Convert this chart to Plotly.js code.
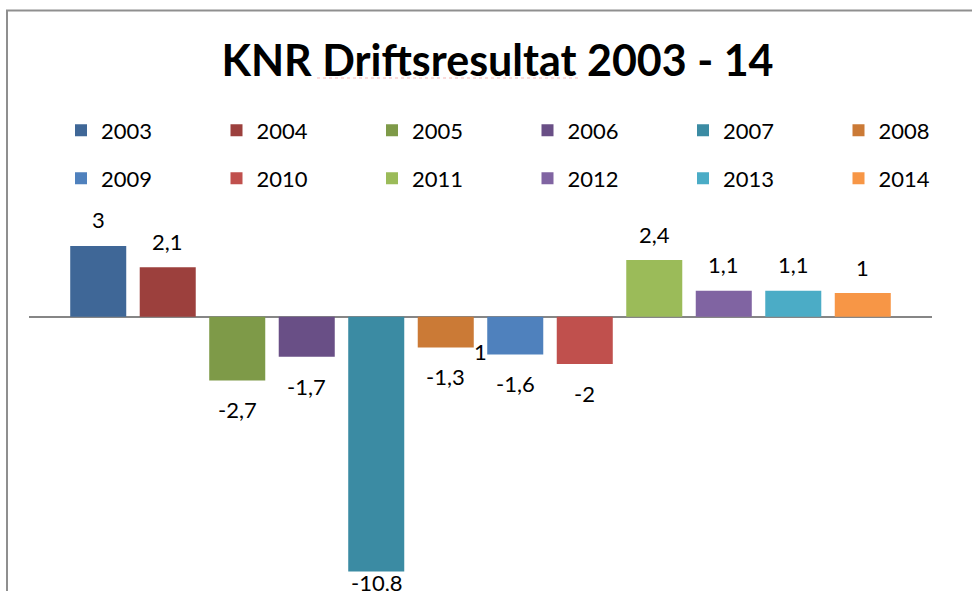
<!DOCTYPE html>
<html>
<head>
<meta charset="utf-8">
<script src="https://cdn.plot.ly/plotly-3.0.1.min.js"></script>
<style>
html, body { margin: 0; padding: 0; background: #ffffff; }
#chart { width: 972px; height: 591px; }
</style>
</head>
<body>
<div id="chart"></div>
<script>
// ---- data ----
const years = ['2003', '2004', '2005', '2006', '2007', '2008', '2009', '2010', '2011', '2012', '2013', '2014'];
const values = [3, 2.1, -2.7, -1.7, -10.8, -1.3, -1.6, -2, 2.4, 1.1, 1.1, 1];
const colors = ['#3f6797', '#9c403d', '#7e9a48', '#694f86', '#3b8ba3', '#cb7a36',
                '#4f81bd', '#c0504d', '#9bbb59', '#8064a2', '#4bacc6', '#f79646'];
const titleText = 'KNR Driftsresultat 2003 - 14';
const strayText = '1';

// ---- layout constants ----
const W = 972, H = 591;
const M = { l: 29, r: 40, t: 195, b: 0 };
const plotW = W - M.l - M.r, plotH = H - M.t - M.b;
const yRange = [-11.623, 5.157];
const xRange = [-0.996, 11.996];
const pxPerUnit = plotH / (yRange[1] - yRange[0]);
const FONT = "Lato, 'Open Sans', 'DejaVu Sans', sans-serif";
const LEG_COLS = 6, LEG_X0 = 61, LEG_DX = 155.5, LEG_ROW_Y = [130.5, 178.5];

function fmt(v) { return String(v).replace('.', ','); }
function pxX(p) { return (p - M.l) / plotW; }
function pxY(p) { return (H - M.b - p) / plotH; }
function legendId(i) { return i === 0 ? 'legend' : 'legend' + (i + 1); }

const traces = years.map((yr, i) => ({
  type: 'bar',
  name: yr,
  x: [yr],
  y: [values[i]],
  marker: { color: colors[i], line: { width: 0 } },
  legend: legendId(i),
  hoverinfo: 'x+y'
}));

const annotations = years.map((yr, i) => {
  const v = values[i];
  let shift;
  if (v >= 0) {
    shift = 26;
  } else {
    const barEnd = M.t + (yRange[1] - v) * pxPerUnit;
    const center = Math.min(barEnd + 29.5, 582);
    shift = -(center - barEnd);
  }
  return {
    x: i, y: v, xref: 'x', yref: 'y',
    text: fmt(v), showarrow: false,
    xanchor: 'center', yanchor: 'middle', yshift: shift,
    font: { family: FONT, size: 22, color: '#000000' }
  };
});
annotations.push({
  x: pxX(480.5), y: pxY(351.7), xref: 'paper', yref: 'paper',
  text: strayText, showarrow: false, xanchor: 'center', yanchor: 'middle',
  font: { family: FONT, size: 22, color: '#000000' }
});

const layout = {
  width: W, height: H,
  margin: { l: M.l, r: M.r, t: M.t, b: M.b, autoexpand: false },
  paper_bgcolor: '#ffffff', plot_bgcolor: 'rgba(0,0,0,0)',
  barmode: 'overlay', bargap: 0.194,
  showlegend: true,
  title: {
    text: titleText,
    xref: 'container', yref: 'container',
    x: 497.5 / W, xanchor: 'center',
    y: 1 - 60.5 / H, yanchor: 'middle',
    font: { family: FONT, size: 43, color: '#000000', weight: 700 }
  },
  xaxis: {
    type: 'category', range: xRange, fixedrange: true,
    showticklabels: false, showgrid: false, zeroline: false, showline: false, ticks: ''
  },
  yaxis: {
    range: yRange, fixedrange: true,
    showticklabels: false, showgrid: false, showline: false, ticks: '',
    zeroline: true, zerolinecolor: '#868686', zerolinewidth: 2
  },
  annotations: annotations,
  shapes: [
    { type: 'line', xref: 'paper', yref: 'paper', x0: pxX(7), x1: pxX(7), y0: pxY(10.5), y1: pxY(600),
      line: { color: '#8f8f8f', width: 2 } },
    { type: 'line', xref: 'paper', yref: 'paper', x0: pxX(6), x1: pxX(980), y0: pxY(10.5), y1: pxY(10.5),
      line: { color: '#8f8f8f', width: 2 } },
    { type: 'line', xref: 'paper', yref: 'paper', x0: pxX(317), x1: pxX(579), y0: pxY(78), y1: pxY(78),
      line: { color: 'rgba(235,120,120,0.55)', width: 1, dash: 'dot' } }
  ]
};

// one legend box per entry, laid out as a 2 x 6 grid
years.forEach((yr, i) => {
  const col = i % LEG_COLS, row = Math.floor(i / LEG_COLS);
  layout[legendId(i)] = {
    orientation: 'h',
    xref: 'paper', yref: 'paper',
    x: pxX(LEG_X0 + col * LEG_DX), xanchor: 'left',
    y: pxY(LEG_ROW_Y[row]), yanchor: 'middle',
    font: { family: FONT, size: 22, color: '#000000' },
    bgcolor: 'rgba(0,0,0,0)', borderwidth: 0,
    itemclick: false, itemdoubleclick: false
  };
});

Plotly.newPlot('chart', traces, layout, { displayModeBar: false, responsive: false });
</script>
</body>
</html>
